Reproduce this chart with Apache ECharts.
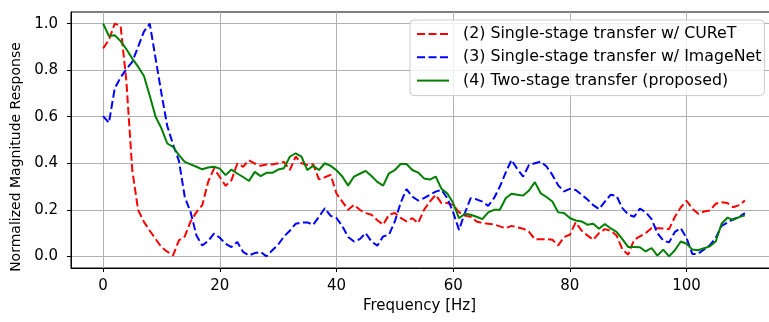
<!DOCTYPE html>
<html>
<head>
<meta charset="utf-8">
<script src="https://cdn.jsdelivr.net/npm/echarts@6/dist/echarts.min.js"></script>
<style>
  html, body { margin: 0; padding: 0; background: #fff; }
  #chart { width: 769px; height: 322px; }
</style>
</head>
<body>
<div id="chart"></div>
<script>
// one sample per Hz, starting at 0 Hz
const FREQ_STEP_HZ = 1;

const xTicks = [0, 20, 40, 60, 80, 100];
const yTicks = [0, 0.2, 0.4, 0.6, 0.8, 1.0];

const seriesNames = [
  "(2) Single-stage transfer w/ CUReT",
  "(3) Single-stage transfer w/ ImageNet",
  "(4) Two-stage transfer (proposed)",
];

const curetValues = [
  0.894, 0.93, 1.0, 0.99, 0.75, 0.37, 0.2, 0.148, 0.11, 0.075,
  0.04, 0.02, 0.004, 0.069, 0.086, 0.15, 0.19, 0.22, 0.32, 0.377,
  0.341, 0.303, 0.327, 0.399, 0.385, 0.413, 0.399, 0.389, 0.395, 0.395,
  0.40, 0.406, 0.371, 0.429, 0.40, 0.393, 0.396, 0.331, 0.34, 0.35,
  0.27, 0.235, 0.2, 0.221, 0.2, 0.186, 0.179, 0.155, 0.136, 0.179,
  0.186, 0.165, 0.15, 0.164, 0.143, 0.2, 0.235, 0.264, 0.229, 0.229,
  0.22, 0.19, 0.175, 0.17, 0.15, 0.143, 0.14, 0.137, 0.129, 0.121,
  0.131, 0.125, 0.119, 0.105, 0.074, 0.074, 0.074, 0.071, 0.047, 0.083,
  0.093, 0.146, 0.111, 0.09, 0.071, 0.10, 0.117, 0.11, 0.09, 0.03,
  0.007, 0.071, 0.086, 0.1, 0.121, 0.121, 0.12, 0.117, 0.17, 0.21,
  0.239, 0.205, 0.183, 0.193, 0.197, 0.226, 0.233, 0.229, 0.211, 0.22,
  0.24,
];

const imagenetValues = [
  0.603, 0.574, 0.722, 0.769, 0.805, 0.836, 0.90, 0.966, 1.0, 0.85,
  0.70, 0.56, 0.48, 0.41, 0.255, 0.19, 0.09, 0.047, 0.066, 0.098,
  0.08, 0.054, 0.04, 0.062, 0.019, 0.004, 0.014, 0.019, 0.0, 0.026,
  0.05, 0.085, 0.11, 0.14, 0.145, 0.146, 0.136, 0.17, 0.207, 0.174,
  0.165, 0.13, 0.083, 0.064, 0.074, 0.10, 0.064, 0.046, 0.086, 0.093,
  0.15, 0.23, 0.289, 0.257, 0.24, 0.25, 0.265, 0.278, 0.286, 0.25,
  0.189, 0.114, 0.186, 0.25, 0.245, 0.235, 0.217, 0.25, 0.30, 0.36,
  0.414, 0.375, 0.343, 0.393, 0.40, 0.407, 0.386, 0.35, 0.305, 0.279,
  0.29, 0.285, 0.265, 0.245, 0.22, 0.203, 0.235, 0.265, 0.26, 0.207,
  0.18, 0.17, 0.205, 0.19, 0.16, 0.1, 0.068, 0.06, 0.105, 0.121,
  0.079, 0.01, 0.011, 0.03, 0.048, 0.079, 0.131, 0.145, 0.16, 0.17,
  0.186,
];

const twoStageValues = [
  1.0, 0.947, 0.95, 0.925, 0.89, 0.85, 0.815, 0.775, 0.69, 0.60,
  0.55, 0.485, 0.47, 0.435, 0.406, 0.395, 0.385, 0.374, 0.382, 0.385,
  0.377, 0.349, 0.373, 0.356, 0.341, 0.324, 0.363, 0.345, 0.359, 0.359,
  0.373, 0.379, 0.428, 0.443, 0.429, 0.371, 0.389, 0.371, 0.40, 0.389,
  0.37, 0.343, 0.304, 0.343, 0.355, 0.367, 0.345, 0.32, 0.304, 0.357,
  0.371, 0.397, 0.397, 0.371, 0.36, 0.335, 0.33, 0.343, 0.29, 0.27,
  0.229, 0.164, 0.183, 0.179, 0.17, 0.16, 0.189, 0.2, 0.2, 0.25,
  0.269, 0.265, 0.261, 0.283, 0.319, 0.271, 0.255, 0.236, 0.189, 0.186,
  0.165, 0.154, 0.15, 0.136, 0.14, 0.119, 0.139, 0.12, 0.105, 0.074,
  0.04, 0.04, 0.039, 0.021, 0.036, 0.003, 0.029, 0.0, 0.026, 0.064,
  0.054, 0.029, 0.026, 0.035, 0.043, 0.064, 0.14, 0.166, 0.157, 0.169,
  0.176,
];

const FONT = "DejaVu Sans";

function toPoints(values) {
  return values.map((v, i) => [i * FREQ_STEP_HZ, v]);
}

function makeSeries(name, values, color, dashed) {
  return {
    type: "line",
    name: name,
    data: toPoints(values),
    symbol: "none",
    smooth: false,
    lineStyle: {
      color: color,
      width: 2,
      type: dashed ? [8, 3.5] : "solid",
    },
    itemStyle: { color: color },
  };
}

const chart = echarts.init(document.getElementById("chart"), null, { renderer: "canvas" });

chart.setOption({
  animation: false,
  backgroundColor: "#ffffff",
  textStyle: { fontFamily: FONT },
  grid: {
    left: 71,
    top: 12,
    width: 706,
    height: 256,
    outerBoundsMode: "none",
    show: true,
    borderColor: "#000",
    borderWidth: 1,
    backgroundColor: "transparent",
  },
  legend: {
    orient: "vertical",
    left: 410,
    top: 20,
    padding: [6, 3, 7, 6],
    itemWidth: 32,
    itemHeight: 16,
    itemGap: 7.3,
    backgroundColor: "rgba(255,255,255,0.8)",
    borderColor: "#cccccc",
    borderWidth: 1,
    borderRadius: 4,
    itemStyle: { opacity: 0 },
    textStyle: {
      fontFamily: FONT,
      fontSize: 15.8,
      color: "#000",
      padding: [0, 0, 0, 9],
    },
    data: seriesNames,
  },
  xAxis: {
    type: "value",
    min: -5.5,
    max: 115.5,
    name: "Frequency [Hz]",
    nameLocation: "middle",
    nameGap: 31,
    nameTextStyle: {
      fontFamily: FONT,
      fontSize: 15,
      color: "#000",
      padding: [0, 9, 0, 0],
    },
    axisLine: { show: true, onZero: false, lineStyle: { color: "#000", width: 1 } },
    axisTick: {
      show: true,
      inside: false,
      length: 4,
      customValues: xTicks,
      lineStyle: { color: "#000" },
    },
    axisLabel: {
      customValues: xTicks,
      fontFamily: FONT,
      fontSize: 15,
      color: "#000",
      margin: 11,
    },
    splitLine: { show: true, lineStyle: { color: "#b0b0b0", width: 1 } },
  },
  yAxis: {
    type: "value",
    min: -0.05,
    max: 1.05,
    name: "Normalized Magnitude Response",
    nameLocation: "middle",
    nameGap: 44,
    nameTextStyle: {
      fontFamily: FONT,
      fontSize: 14,
      color: "#000",
      padding: [0, 34, 0, 0],
    },
    axisLine: { show: true, onZero: false, lineStyle: { color: "#000", width: 1 } },
    axisTick: {
      show: true,
      inside: false,
      length: 4,
      customValues: yTicks,
      lineStyle: { color: "#000" },
    },
    axisLabel: {
      customValues: yTicks,
      fontFamily: FONT,
      fontSize: 15,
      color: "#000",
      margin: 13,
      formatter: (v) => v.toFixed(1),
    },
    splitLine: { show: true, lineStyle: { color: "#b0b0b0", width: 1 } },
  },
  series: [
    makeSeries(seriesNames[0], curetValues, "#ff0000", true),
    makeSeries(seriesNames[1], imagenetValues, "#0000ff", true),
    makeSeries(seriesNames[2], twoStageValues, "#008000", false),
  ],
});
</script>
</body>
</html>
